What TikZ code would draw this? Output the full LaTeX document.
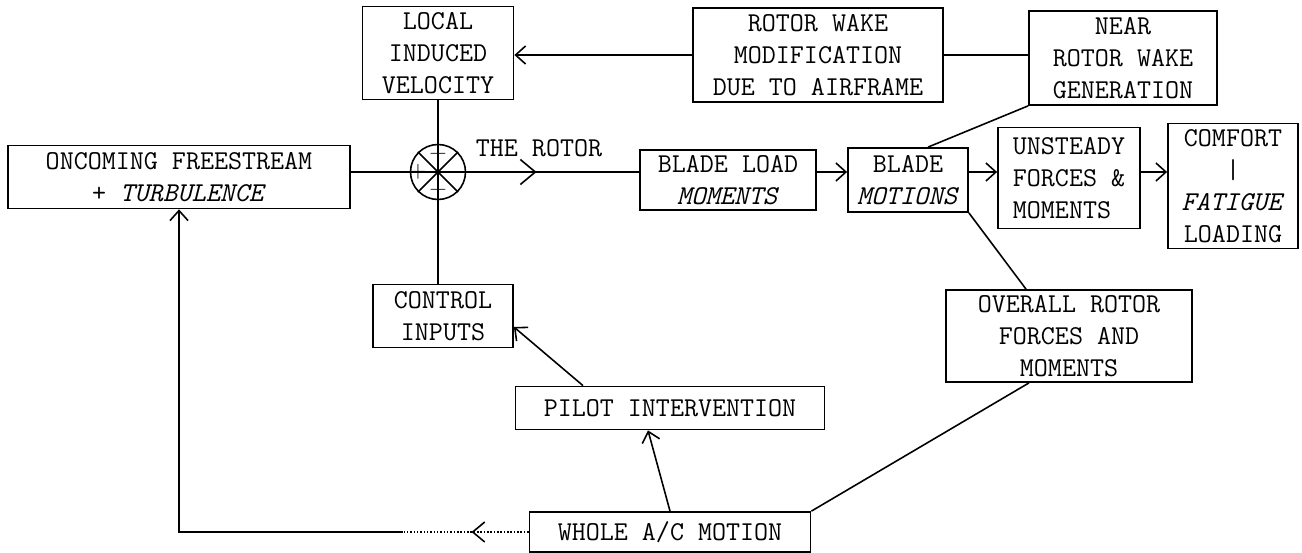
\documentclass[tikz,border=0pt]{standalone}
\usepackage{fontspec}
\usepackage{tikz}
\usetikzlibrary{arrows.meta, positioning, decorations.markings}

\begin{document}
\begin{tikzpicture}[node distance=2cm,
        blk/.style={rectangle, draw, line width=1pt, inner sep=2pt, align=center},
        lbl/.style={inner sep=1pt},
        sign/.style={inner sep=0pt, font=\fontsize{13}{13}\selectfont\rmfamily},
        arr/.style={-{Straight Barb[length=2mm, width=3.6mm]}, line width=0.9pt},
        midarr/.style={line width=0.9pt, postaction={decorate}, decoration={markings, mark=at position #1 with {\arrow{Straight Barb[length=3mm, width=5mm]}}}},
        font=\fontsize{15.5}{18.2}\selectfont\ttfamily]

        \useasboundingbox (0,0) rectangle (26.04,-11.06);

        % The rotor summing point
        \node[circle, draw, line width=0.9pt, minimum size=1.1cm, inner sep=0pt] (sum) at (8.76,-3.44) {};
        \draw[line width=0.9pt] (sum.north east) -- (sum.south west);
        \draw[line width=0.9pt] (sum.north west) -- (sum.south east);
        \node[sign] (ptop) at ([yshift=0.37cm]sum.center) {+};
        \node[sign] (pleft) at ([xshift=-0.4cm]sum.center) {+};
        \node[sign] (pbot) at ([yshift=-0.35cm]sum.center) {+};
        \node[lbl, right of=sum, node distance=2.02cm, yshift=0.48cm] (rotor) {THE ROTOR};

        % Inputs
        \node[blk, minimum width=3.02cm, minimum height=1.86cm, above of=sum, node distance=2.38cm] (local) {LOCAL\\INDUCED\\VELOCITY};
        \node[blk, minimum width=6.84cm, minimum height=1.26cm, left of=sum, node distance=5.18cm, yshift=-0.1cm] (oncoming) {ONCOMING FREESTREAM\\+ \textit{TURBULENCE}};
        \node[blk, minimum width=2.8cm, minimum height=1.26cm, below of=sum, node distance=2.88cm, xshift=0.1cm] (control) {CONTROL\\INPUTS};

        % Blade chain
        \node[blk, minimum width=3.52cm, minimum height=1.2cm, right of=sum, node distance=5.8cm, yshift=-0.16cm] (bload) {BLADE LOAD\\\textit{MOMENTS}};
        \node[blk, minimum width=2.4cm, minimum height=1.28cm, right of=bload, node distance=3.6cm] (bmot) {BLADE\\\textit{MOTIONS}};
        \node[blk, align=left, minimum width=2.84cm, minimum height=2.02cm, right of=bmot, node distance=3.22cm, yshift=0.04cm] (unsteady) {UNSTEADY\\FORCES \&\\MOMENTS};
        \node[blk, minimum width=2.6cm, minimum height=2.5cm, right of=unsteady, node distance=3.28cm, yshift=-0.16cm] (comfort) {COMFORT\\|\\\textit{FATIGUE}\\LOADING};
        \node[blk, minimum width=4.92cm, minimum height=1.84cm, below of=unsteady, node distance=3.16cm] (overall) {OVERALL ROTOR\\FORCES AND\\MOMENTS};

        % Wake
        \node[blk, minimum width=5.0cm, minimum height=1.88cm, above of=bload, node distance=2.5cm, xshift=1.8cm] (wake) {ROTOR WAKE\\MODIFICATION\\DUE TO AIRFRAME};
        \node[blk, minimum width=3.76cm, minimum height=1.88cm, right of=wake, node distance=6.1cm, yshift=-0.06cm] (near) {NEAR\\ROTOR WAKE\\GENERATION};

        % Pilot loop
        \node[blk, minimum width=6.18cm, minimum height=0.86cm, below of=bload, node distance=4.56cm, xshift=-1.16cm] (pilot) {PILOT INTERVENTION};
        \node[blk, minimum width=5.62cm, minimum height=0.8cm, below of=pilot, node distance=2.48cm] (whole) {WHOLE A/C MOTION};
        \coordinate (fb) at ([xshift=-2.54cm]whole.west);

        % Connectors
        \draw[line width=0.9pt] (oncoming.east |- sum) -- (sum.center);
        \draw[line width=0.9pt] (local.south) -- (sum.center) -- (sum.center |- control.north);
        \draw[midarr=0.49] (sum.center) -- (sum -| bload.west);
        \draw[arr] (bload.east |- sum) -- (bmot.west |- sum);
        \draw[arr] (bmot.east |- sum) -- (unsteady.west |- sum);
        \draw[arr] (unsteady.east |- sum) -- (comfort.west |- sum);
        \draw[arr] (wake.west) -- (wake.west -| local.east);
        \draw[line width=0.9pt] (wake.east) -- (wake.east -| near.west);
        \draw[line width=0.9pt] (near.south west) -- ([xshift=0.4cm]bmot.north);
        \draw[line width=0.9pt] (bmot.south east) -- ([xshift=-0.86cm]overall.north);
        \draw[line width=0.9pt] ([xshift=-0.8cm]overall.south) -- (whole.north east);
        \draw[arr] (whole.north) -- ([xshift=-0.44cm]pilot.south);
        \draw[arr] ([xshift=-1.74cm]pilot.north) -- ([yshift=-0.22cm]control.east);
        \draw[densely dotted, line width=0.9pt, postaction={decorate}, decoration={markings, mark=at position 0.45 with {\arrow[solid]{Straight Barb[length=2.4mm, width=4mm]}}}] (whole.west) -- (fb);
        \draw[arr] (fb) -| (oncoming.south);
\end{tikzpicture}
\end{document}
